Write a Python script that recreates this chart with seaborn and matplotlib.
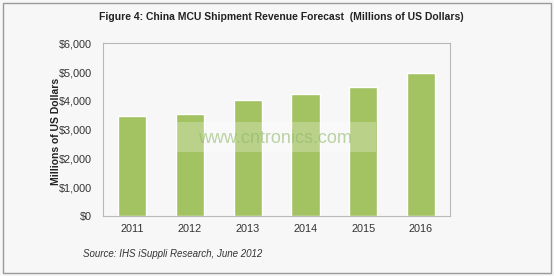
import matplotlib
matplotlib.use("Agg")
import matplotlib.pyplot as plt
import seaborn as sns
import pandas as pd
from matplotlib.patches import Rectangle
from matplotlib.ticker import FuncFormatter

years = ["2011", "2012", "2013", "2014", "2015", "2016"]
revenue = [3485, 3530, 4020, 4230, 4470, 4960]
y_ticks = [0, 1000, 2000, 3000, 4000, 5000, 6000]

sns.set_theme(style="white")
plt.rcParams["font.family"] = ["Liberation Sans", "DejaVu Sans"]

df = pd.DataFrame({"Year": years, "Revenue": revenue})

bg = "#f7f7f7"
fig = plt.figure(figsize=(5.54, 2.76), dpi=100, facecolor=bg)
ax = fig.add_axes([0.1865, 0.2174, 0.6255, 0.6256])
ax.set_facecolor(bg)

sns.barplot(data=df, x="Year", y="Revenue", color="#a3c262", saturation=1,
            width=0.49, ax=ax)

ax.set_ylim(0, 6000)
ax.set_yticks(y_ticks)
ax.yaxis.set_major_formatter(FuncFormatter(lambda v, p: f"${int(v):,}"))
ax.set_xlim(-0.5, 5.5)
ax.set_xlabel("")
ax.set_ylabel("Millions of US Dollars", fontsize=7.5, fontweight="bold",
              color="#222222")
ax.yaxis.set_label_coords(-0.121, 0.49)
ax.tick_params(axis="both", labelsize=7.8, colors="#333333", length=0, pad=6)
ax.tick_params(axis="y", pad=8)
for s in ax.spines.values():
    s.set_color("#b8b8b8")
    s.set_linewidth(0.8)

fig.text(0.508, 0.938, "Figure 4: China MCU Shipment Revenue Forecast  (Millions of US Dollars)",
         ha="center", va="center", fontsize=7.5, fontweight="bold", color="#222222")
fig.text(0.15, 0.08, "Source: IHS iSuppli Research, June 2012",
         ha="left", va="center", fontsize=7, style="italic", color="#333333")

# watermark
ax.add_patch(Rectangle((0.775, 2220), 3.45, 1050, facecolor="white", alpha=0.25,
                       edgecolor="none", zorder=5))
ax.text(2.47, 2710, "www.cntronics.com", ha="center", va="center", fontsize=13,
        color="#8fb86a", alpha=0.6, zorder=6)

# figure border
fig.patches.append(Rectangle((0.005, 0.012), 0.99, 0.978, transform=fig.transFigure,
                             facecolor="none", edgecolor="#9a9a9a", linewidth=1.0))

fig.savefig("out.png", dpi=100, facecolor=bg)
